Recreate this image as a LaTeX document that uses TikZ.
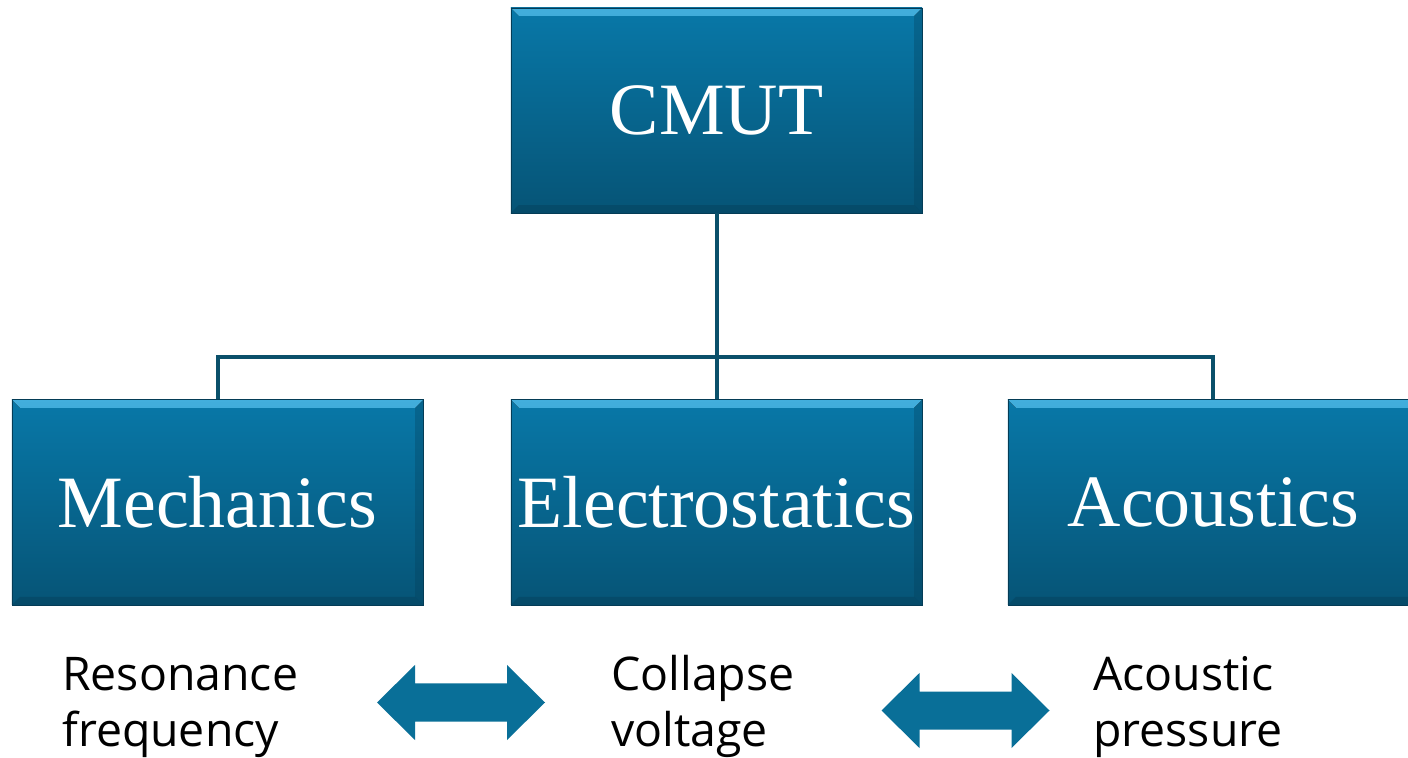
\documentclass[tikz,border=0pt]{standalone}
\usepackage{fontspec}
\setmainfont{Liberation Serif}
\newfontfamily\labelfont{Open Sans}
\usetikzlibrary{positioning}

\definecolor{boxtop}{RGB}{8,120,168}
\definecolor{boxbot}{RGB}{6,84,118}
\definecolor{bevlight}{RGB}{66,174,220}
\definecolor{bevdark}{RGB}{4,60,86}
\definecolor{linkcol}{RGB}{10,80,106}
\definecolor{arrowcol}{RGB}{9,111,152}

\tikzset{block/.style={
        rectangle,
        minimum width=10.275cm,
        minimum height=5.125cm,
        top color=boxtop,
        bottom color=boxbot,
        draw=bevdark,
        line width=0.6pt,
        text=white,
        font=\fontsize{52.5}{60}\selectfont,
        path picture={
            \fill[top color=bevlight, bottom color=boxtop]
            (path picture bounding box.north west) -- (path picture bounding box.north east)
            -- ([xshift=-0.2cm,yshift=-0.2cm]path picture bounding box.north east)
            -- ([xshift=0.2cm,yshift=-0.2cm]path picture bounding box.north west) -- cycle;
            \fill[bevdark, opacity=0.4]
            (path picture bounding box.south west) -- (path picture bounding box.south east)
            -- ([xshift=-0.2cm,yshift=0.2cm]path picture bounding box.south east)
            -- ([xshift=0.2cm,yshift=0.2cm]path picture bounding box.south west) -- cycle;
            \fill[bevdark, opacity=0.3]
            (path picture bounding box.north east) -- (path picture bounding box.south east)
            -- ([xshift=-0.2cm,yshift=0.2cm]path picture bounding box.south east)
            -- ([xshift=-0.2cm,yshift=-0.2cm]path picture bounding box.north east) -- cycle;
        } } }
\tikzset{link/.style={ draw=linkcol, line width=0.1cm } }
\tikzset{dblarrow/.pic={
        \fill[arrowcol] (-84,0) -- (-46,37.5) -- (-46,19) -- (46,19) -- (46,37.5)
        -- (84,0) -- (46,-37.5) -- (46,-19) -- (-46,-19) -- (-46,-37.5) -- cycle; } }
\tikzset{quantity/.style={
        font=\labelfont\fontsize{33}{39.5}\selectfont,
        align=left,
        inner sep=0pt,
        anchor=base west } }

\begin{document}
\begin{tikzpicture}[x=0.025cm,y=0.025cm]

\fill[white] (0,0) rectangle (1408,757);
\useasboundingbox (0,0) rectangle (1408,757);

%%BLOCKS
\node[block] (cmut) at (716.5,646.5) {CMUT};
\node[block] (elec) [below = 4.65cm of cmut] {Electrostatics};
\node[block] (mech) [left = 2.175cm of elec] {Mechanics};
\node[block] (acou) [right = 2.125cm of elec] {Acoustics};

%%TREE
\draw[link] (cmut.south) -- (elec.north);
\draw[link] (mech.north) -- ++(0,42) -| (acou.north);

%%QUANTITIES (anchor is on the last line)
\node[quantity] (resfreq) at (62,10.5) {Resonance\\frequency};
\node[quantity] (colvolt) at (611,10.5) {Collapse\\voltage};
\node[quantity] (acpress) at (1093,10.5) {Acoustic\\pressure};

\pic (arrL) at (461,54.5) {dblarrow};
\pic (arrR) at (965.5,46.5) {dblarrow};

\end{tikzpicture}
\end{document}
